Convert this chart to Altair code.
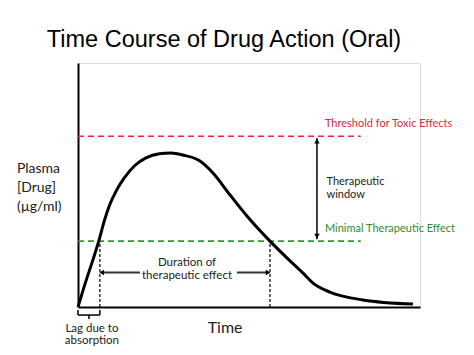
import altair as alt
import pandas as pd

# ---- data (time in arbitrary hours, concentration in arbitrary units) ----
t_curve = [0, 0.35, 0.64, 0.91, 1.15, 1.37, 1.67, 2.03, 2.47, 2.98, 3.57, 4.08, 4.59, 5.35, 5.92, 6.67, 7.41, 8.42, 9.30, 9.87, 10.31, 11.05, 12.5, 14.69]
c_curve = [0, 1.07, 1.89, 2.70, 3.52, 4.14, 4.75, 5.29, 5.78, 6.11, 6.28, 6.31, 6.23, 5.98, 5.49, 4.59, 3.73, 2.70, 1.89, 1.39, 0.98, 0.61, 0.29, 0.12]

thr_levels = [7.0, 2.7]
thr_colors = ["#e8283c", "#2e9a2e"]
thr_text_colors = ["#e0283c", "#2e8b2e"]
thr_labels = ["Threshold for Toxic Effects", "Minimal Therapeutic Effect"]
thr_end = 12.4
thr_label_t = 10.83
thr_label_c = [7.38, 3.07]

onset_t = 0.96
offset_t = 8.42

window_t = 10.48
window_text_t = 10.9
window_text = ["Therapeutic", "window"]
window_text_c = [5.0, 4.47]

dur_c = 1.41
dur_left = [2.72, 1.04]
dur_right = [6.97, 8.34]
dur_text = ["Duration of", "therapeutic effect"]
dur_text_t = 4.78
dur_text_c = [1.68, 1.15]

lag_text = ["Lag due to", "absorption"]
lag_text_t = 0.61
lag_text_c = [-1.02, -1.5]

ylab_text = ["Plasma", "[Drug]", "(µg/ml)"]
ylab_t = -2.68
ylab_c = [5.49, 4.72, 3.93]

time_text_t = 6.45
time_text_c = -1.07

xs = alt.Scale(domain=[0, 15], nice=False, zero=False)
ys = alt.Scale(domain=[0, 10], nice=False, zero=False)
ax_x = alt.Axis(labels=False, ticks=False, title=None, grid=False, domainColor="black", domainWidth=2)
ax_y = alt.Axis(labels=False, ticks=False, title=None, grid=False, domainColor="black", domainWidth=2)

FONT = "Lato"
TXT = "#222222"

curve_df = pd.DataFrame({"t": t_curve, "c": c_curve})
curve = alt.Chart(curve_df).mark_line(interpolate="monotone", color="black", strokeWidth=3, clip=False).encode(
    x=alt.X("t:Q", scale=xs, axis=ax_x),
    y=alt.Y("c:Q", scale=ys, axis=ax_y),
)

thr_df = pd.DataFrame({"lvl": thr_levels, "col": thr_colors, "x0": [0, 0], "x1": [thr_end, thr_end]})
thr = alt.Chart(thr_df).mark_rule(strokeDash=[6, 4], strokeWidth=1.6).encode(
    x=alt.X("x0:Q", scale=xs), x2="x1:Q", y=alt.Y("lvl:Q", scale=ys),
    color=alt.Color("col:N", scale=None),
)

thr_lab_df = pd.DataFrame({"t": [thr_label_t] * 2, "c": thr_label_c, "txt": thr_labels, "col": thr_text_colors})
thr_lab = alt.Chart(thr_lab_df).mark_text(align="left", baseline="alphabetic", font=FONT, fontSize=11).encode(
    x=alt.X("t:Q", scale=xs), y=alt.Y("c:Q", scale=ys), text="txt:N",
    color=alt.Color("col:N", scale=None),
)

# therapeutic window double arrow
win_df = pd.DataFrame({"t": [window_t], "c0": [thr_levels[1] + 0.08], "c1": [thr_levels[0] - 0.08]})
win = alt.Chart(win_df).mark_rule(color="black", strokeWidth=1.5).encode(
    x=alt.X("t:Q", scale=xs), y=alt.Y("c0:Q", scale=ys), y2="c1:Q"
)
head_df = pd.DataFrame({
    "t": [window_t, window_t, dur_left[1], dur_right[1]],
    "c": [thr_levels[0] - 0.2, thr_levels[1] + 0.2, dur_c, dur_c],
    "shape": ["triangle-up", "triangle-down", "triangle-left", "triangle-right"],
})
heads = alt.Chart(head_df).mark_point(filled=True, color="black", size=30, opacity=1).encode(
    x=alt.X("t:Q", scale=xs), y=alt.Y("c:Q", scale=ys),
    shape=alt.Shape("shape:N", scale=None),
)
win_lab_df = pd.DataFrame({"t": [window_text_t] * 2, "c": window_text_c, "txt": window_text})
win_lab = alt.Chart(win_lab_df).mark_text(align="left", baseline="alphabetic", font=FONT, fontSize=11, color=TXT).encode(
    x=alt.X("t:Q", scale=xs), y=alt.Y("c:Q", scale=ys), text="txt:N"
)

# duration dashed verticals
vd_df = pd.DataFrame({"t": [onset_t, offset_t], "c0": [0, 0], "c1": [thr_levels[1], thr_levels[1]]})
vd = alt.Chart(vd_df).mark_rule(color="black", strokeDash=[3, 2], strokeWidth=1.2).encode(
    x=alt.X("t:Q", scale=xs), y=alt.Y("c0:Q", scale=ys), y2="c1:Q"
)
dur_df = pd.DataFrame({"x0": [dur_left[0], dur_right[0]], "x1": [dur_left[1], dur_right[1]], "c": [dur_c, dur_c]})
dur = alt.Chart(dur_df).mark_rule(color="#333333", strokeWidth=2).encode(
    x=alt.X("x0:Q", scale=xs), x2="x1:Q", y=alt.Y("c:Q", scale=ys)
)
dur_lab_df = pd.DataFrame({"t": [dur_text_t] * 2, "c": dur_text_c, "txt": dur_text})
dur_lab = alt.Chart(dur_lab_df).mark_text(align="center", baseline="alphabetic", font=FONT, fontSize=11.5, color=TXT).encode(
    x=alt.X("t:Q", scale=xs), y=alt.Y("c:Q", scale=ys), text="txt:N"
)

# lag bracket
br_df = pd.DataFrame({
    "x0": [0, 0, onset_t, onset_t / 2],
    "x1": [onset_t, 0, onset_t, onset_t / 2],
    "c0": [-0.33, -0.33, -0.33, -0.33],
    "c1": [-0.33, -0.12, -0.12, -0.49],
})
br = alt.Chart(br_df).mark_rule(color="black", strokeWidth=1.5, clip=False).encode(
    x=alt.X("x0:Q", scale=xs), x2="x1:Q", y=alt.Y("c0:Q", scale=ys), y2="c1:Q"
)
lag_df = pd.DataFrame({"t": [lag_text_t] * 2, "c": lag_text_c, "txt": lag_text})
lag = alt.Chart(lag_df).mark_text(align="center", baseline="alphabetic", font=FONT, fontSize=11.5, color=TXT, clip=False).encode(
    x=alt.X("t:Q", scale=xs), y=alt.Y("c:Q", scale=ys), text="txt:N"
)

time_df = pd.DataFrame({"t": [time_text_t], "c": [time_text_c], "txt": ["Time"]})
time_lab = alt.Chart(time_df).mark_text(align="center", baseline="alphabetic", font=FONT, fontSize=16, color=TXT, clip=False).encode(
    x=alt.X("t:Q", scale=xs), y=alt.Y("c:Q", scale=ys), text="txt:N"
)

ylab_df = pd.DataFrame({"t": [ylab_t] * 3, "c": ylab_c, "txt": ylab_text})
ylab = alt.Chart(ylab_df).mark_text(align="left", baseline="alphabetic", font=FONT, fontSize=14, color=TXT, clip=False).encode(
    x=alt.X("t:Q", scale=xs), y=alt.Y("c:Q", scale=ys), text="txt:N"
)

chart = alt.layer(
    thr, vd, dur, win, heads, curve, br, thr_lab, win_lab, dur_lab, lag, time_lab, ylab
).properties(
    width=342,
    height=244,
    padding={"left": 78, "top": 63, "right": 54, "bottom": 48},
    autosize=alt.AutoSizeParams(type="none"),
    title=alt.TitleParams(
        "Time Course of Drug Action (Oral)",
        font="Liberation Sans", fontSize=23.5, fontWeight="normal", color="black",
        anchor="middle", dx=-25, offset=12,
    ),
).configure_view(stroke=None).configure(background="white")

chart.save("out.html", embed_options={"renderer": "svg", "actions": False})
